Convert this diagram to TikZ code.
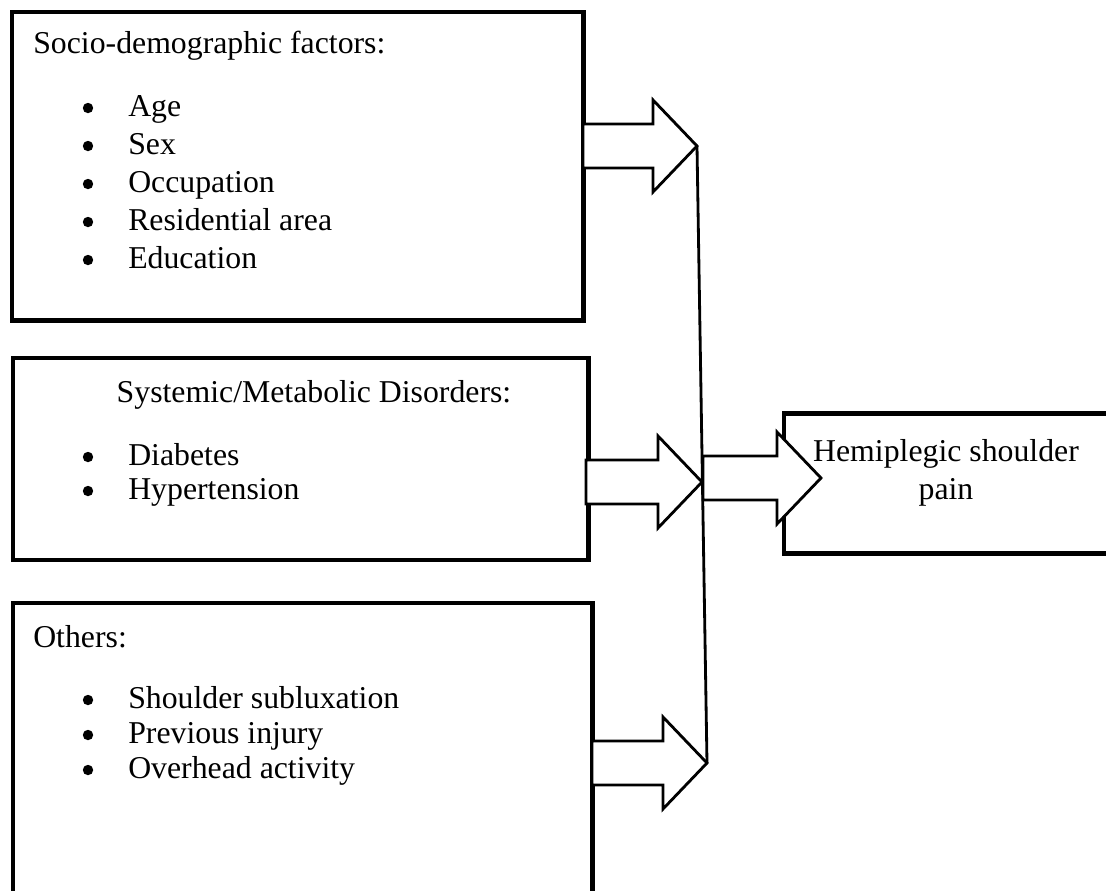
\documentclass[tikz,border=0pt]{standalone}
\usepackage{fontspec}
\setmainfont{Liberation Serif}
\usetikzlibrary{positioning}

\tikzset{
  factorbox/.style={draw, line width=3.5pt, anchor=north west, inner sep=0pt},
  fatarrow/.style={draw, fill=white, line width=2pt, line join=miter},
  joinline/.style={line width=2pt},
  txt/.style={inner sep=0pt, font=\fontsize{22.6}{27}\selectfont},
  dot/.style={circle, fill, inner sep=0pt, minimum size=0.26cm},
}

\begin{document}
\begin{tikzpicture}[x=0.025cm, y=-0.025cm]
\useasboundingbox (0,0) rectangle (1106,890);

% the four boxes
\node[factorbox, minimum width=14.275cm, minimum height=7.71cm] (socio) at (9.5,9.5) {};
\node[factorbox, minimum width=14.375cm, minimum height=5.05cm] (systemic) at (10.5,355.5) {};
\node[factorbox, minimum width=14.475cm, minimum height=8cm] (others) at (10.5,600.5) {};
\node[factorbox, minimum width=8.21cm, minimum height=3.5cm] (hsp) at (781.5,411) {};

% texts
\node[txt, anchor=base west] (sociotitle) at (33,53) {Socio-demographic factors:};
\foreach \t [count=\i] in {Age, Sex, Occupation, Residential area, Education} {
    \node[dot] (sociob\i) at (88,70+38*\i) {};
    \node[txt, anchor=base west] (socio\i) at (128,78+38*\i) {\t};
}
\node[txt, anchor=base] (systitle) at (314,402) {Systemic/Metabolic Disorders:};
\foreach \t [count=\i] in {Diabetes, Hypertension} {
    \node[dot] (sysb\i) at (88,423+34*\i) {};
    \node[txt, anchor=base west] (sys\i) at (128,431+34*\i) {\t};
}
\node[txt, anchor=base west] (otherstitle) at (33,647) {Others:};
\foreach \t [count=\i] in {Shoulder subluxation, Previous injury, Overhead activity} {
    \node[dot] (othb\i) at (88,665+35*\i) {};
    \node[txt, anchor=base west] (oth\i) at (128,673+35*\i) {\t};
}

% joining line
\coordinate (tip1) at (697,146);
\coordinate (tip2) at (702,482);
\coordinate (tip3) at (707,763);
\draw[joinline] (tip1) -- (tip3);

% block arrows
\foreach \n/\sx/\tx/\ty in {1/583/697/146, 2/586/702/482, 3/592/707/763, 4/703/821/478}
    \draw[fatarrow] (\sx,\ty-22) -- (\tx-44,\ty-22) -- (\tx-44,\ty-46) -- (\tx,\ty)
        -- (\tx-44,\ty+46) -- (\tx-44,\ty+22) -- (\sx,\ty+22) -- cycle;

\node[txt, align=center] (hsptext) at (946,473) {Hemiplegic shoulder\\pain};
\end{tikzpicture}
\end{document}
